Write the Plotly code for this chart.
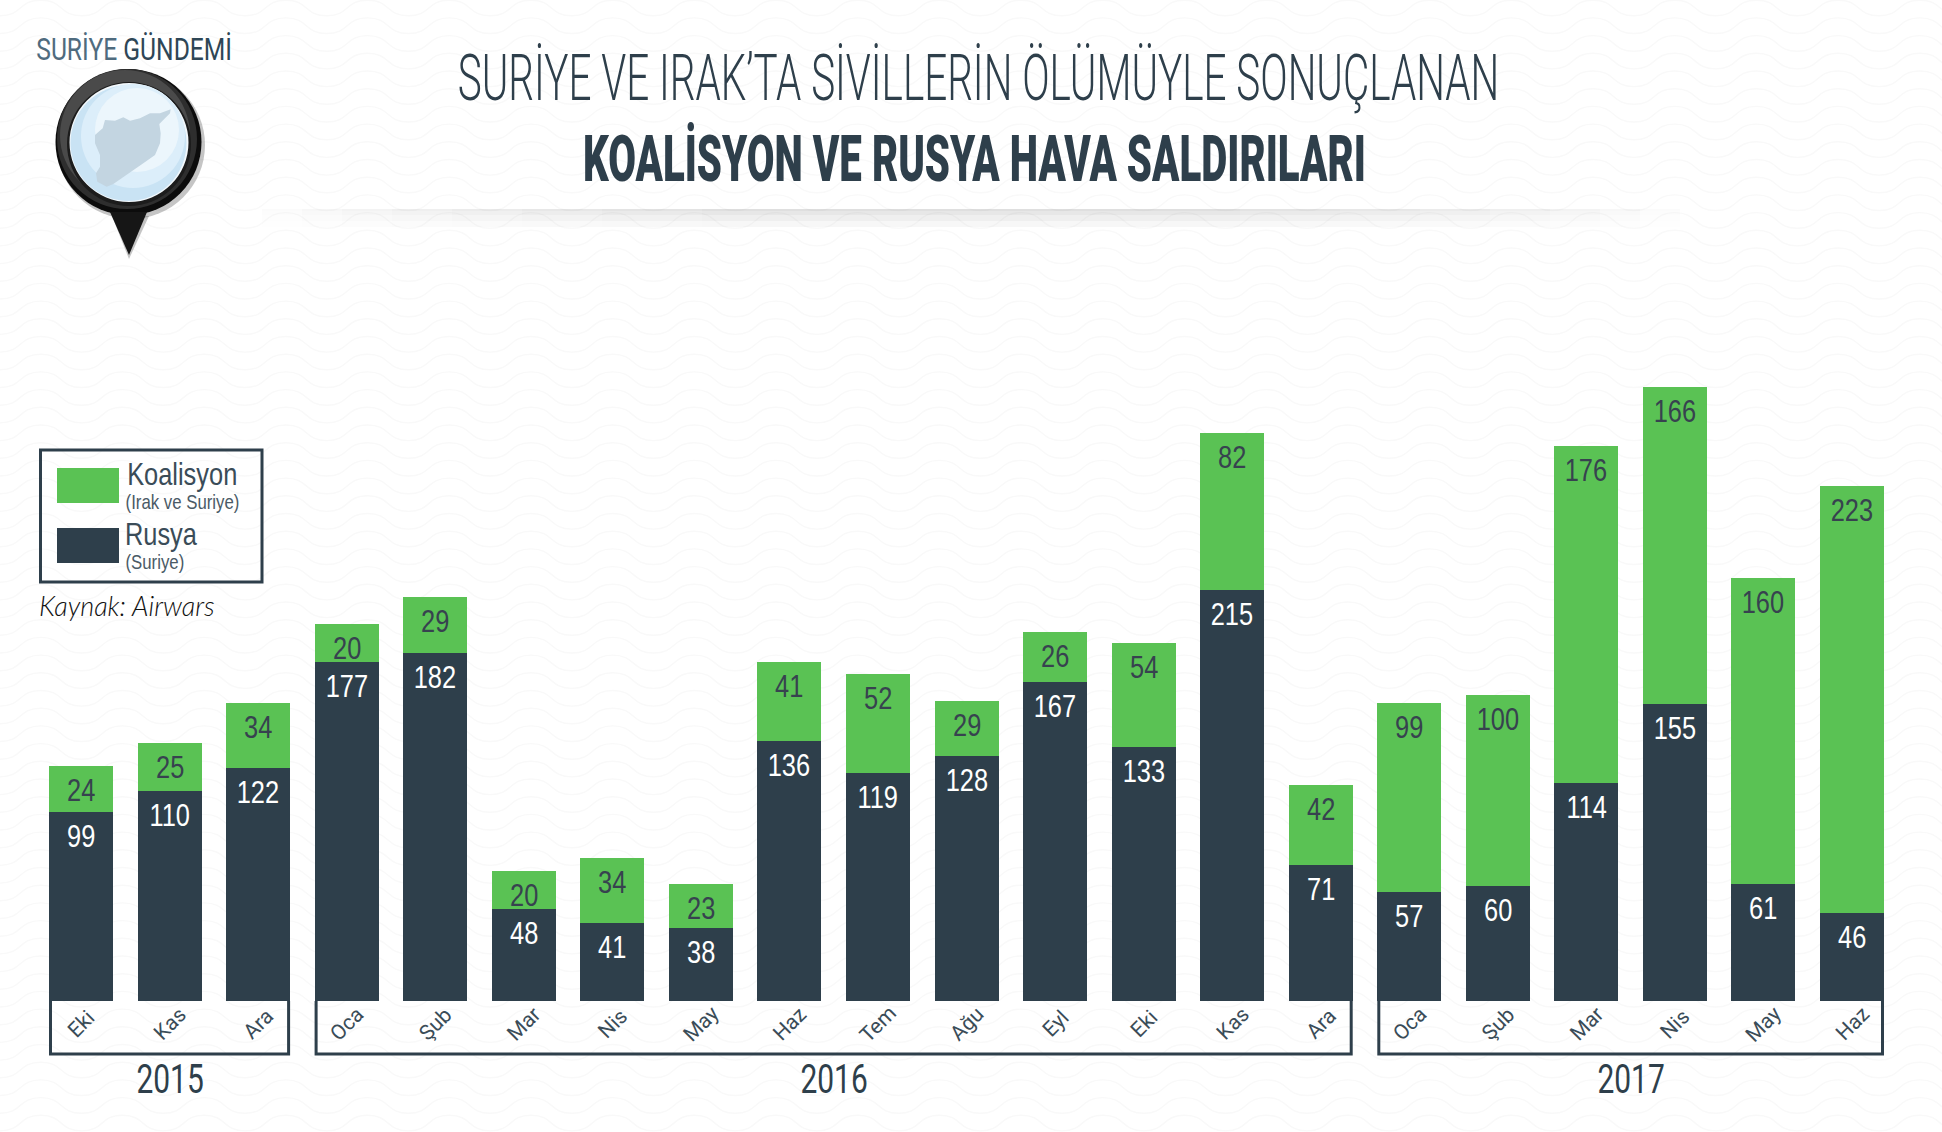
import json
import plotly.graph_objects as go

W, H = 1942, 1132
DARK = "#2e3f4b"
GREEN = "#5ac254"

months = ["Eki", "Kas", "Ara",
          "Oca", "Şub", "Mar", "Nis", "May", "Haz", "Tem", "Ağu", "Eyl", "Eki", "Kas", "Ara",
          "Oca", "Şub", "Mar", "Nis", "May", "Haz"]
rusya = [99, 110, 122, 177, 182, 48, 41, 38, 136, 119, 128, 167, 133, 215, 71, 57, 60, 114, 155, 61, 46]
koalisyon = [24, 25, 34, 20, 29, 20, 34, 23, 41, 52, 29, 26, 54, 82, 42, 99, 100, 176, 166, 160, 223]
years = ["2015", "2016", "2017"]
year_spans = [(0, 2), (3, 14), (15, 20)]

x_pos = list(range(len(months)))
step = 88.55
bar_w = 64
left = 81 - step / 2
unit = 1.913
base = 1001
ARIAL = "Liberation Sans"


def pxx(i):
    return 81 + i * step


fig = go.Figure()
fig.add_trace(go.Bar(x=x_pos, y=rusya, name="Rusya", marker=dict(color=DARK, line_width=0), width=bar_w / step))
fig.add_trace(go.Bar(x=x_pos, y=koalisyon, name="Koalisyon", marker=dict(color=GREEN, line_width=0), width=bar_w / step))

shapes = []
ann = []


def text(x, y, s, size, color=DARK, family=ARIAL, angle=0, weight=None, italic=False):
    f = dict(size=size, color=color, family=family)
    if weight:
        f["weight"] = weight
    if italic:
        f["style"] = "italic"
    ann.append(dict(x=x, y=y, xref="x2", yref="y2", text=s, showarrow=False, font=f,
                    textangle=angle, xanchor="center", yanchor="middle", borderpad=0, borderwidth=0))


def rect(x0, y0, x1, y1, fill, line=None, lw=0, layer="above"):
    shapes.append(dict(type="rect", xref="x2", yref="y2", x0=x0, y0=y0, x1=x1, y1=y1, fillcolor=fill,
                       line=dict(color=line or "rgba(0,0,0,0)", width=lw), layer=layer))


def circle(cx, cy, r, fill, layer="above"):
    shapes.append(dict(type="circle", xref="x2", yref="y2", x0=cx - r, y0=cy - r, x1=cx + r, y1=cy + r,
                       fillcolor=fill, line_width=0, layer=layer))


def path(d, fill=None, line=None, lw=0, layer="above"):
    shapes.append(dict(type="path", xref="x2", yref="y2", path=d, fillcolor=fill or "rgba(0,0,0,0)",
                       line=dict(color=line or "rgba(0,0,0,0)", width=lw), layer=layer))


# background waves
period = 81.7
row = 17.7
for r in range(-1, 66):
    yc = 8 + r * row
    x = -60.0 + (1408 % period) - period
    d = f"M{x:.1f},{yc - 7.8:.1f}"
    while x < W + period:
        d += f" C{x + period * .28:.1f},{yc - 7.8:.1f} {x + period * .22:.1f},{yc + 7.8:.1f} {x + period * .5:.1f},{yc + 7.8:.1f}"
        d += f" C{x + period * .78:.1f},{yc + 7.8:.1f} {x + period * .72:.1f},{yc - 7.8:.1f} {x + period:.1f},{yc - 7.8:.1f}"
        x += period
    path(d, line="#f9f9f9", lw=1.4, layer="below")

# soft shadow under the title: rows fade downwards, nested insets fade sideways
insets = (0, 40, 80, 130, 190, 260, 340, 440)
for j in range(12):
    a = 0.24 * (1 - j / 12) ** 2 / len(insets)
    for inset in insets:
        rect(262 + inset, 209 + j * 2, 1680 - inset, 211 + j * 2, f"rgba(120,120,120,{a:.4f})")

# logo pin
path("M112,216 L129,259 L149,216 Z", fill="rgba(90,90,90,0.35)")
circle(131, 145, 74, "rgba(90,90,90,0.35)")
circle(128.5, 142, 73, "#0c0c0c")
circle(127, 139, 70, "#2e2e2e")
circle(125, 135, 65, "#4a4a4a")
circle(129, 144, 62, "#1c1c1c")
path("M110,212 L129,255 L147,212 Z", fill="#161616")
circle(129, 142.5, 59.5, "#f2f8fc")
circle(128.5, 143, 58, "#c9e3f4")
circle(133, 136, 52, "#dceefa")
circle(137, 130, 42, "#ecf6fc")
syria = [(512, 328), (480, 340), (450, 340), (420, 355), (390, 362), (370, 352), (345, 362), (315, 360), (308, 385),
         (285, 405), (285, 430), (300, 465), (300, 500), (288, 520), (292, 545), (320, 560), (340, 552), (430, 490),
         (465, 465), (480, 430), (482, 400), (478, 372), (495, 355), (510, 340)]
path("M" + " L".join(f"{a / 3:.1f},{b / 3:.1f}" for a, b in syria) + " Z", fill="#c3d5e1")

# legend
rect(40.5, 450, 262, 582, "rgba(0,0,0,0)", line=DARK, lw=3)
rect(57, 468, 119, 503, GREEN)
rect(57, 528, 119, 563, DARK)
text(182, 474, "Koalisyon", 31, color="#3a4c58")
text(182, 501, "(Irak ve Suriye)", 20.5, color="#4a5a66")
text(161, 534, "Rusya", 31, color="#3a4c58")
text(155, 561, "(Suriye)", 20.5, color="#4a5a66")
text(127, 605, "Kaynak: Airwars", 27, color="#111111", family="Lato", italic=True, weight=300)

# titles
text(978, 78, "SURİYE VE IRAK’TA SİVİLLERİN ÖLÜMÜYLE SONUÇLANAN", 65, color=DARK, family="Roboto", weight=300)
text(974, 159, "KOALİSYON VE RUSYA HAVA SALDIRILARI", 65, color=DARK, family="Roboto", weight=900)
logo = '<span style="color:#4f6b7e">SURİYE</span> <span style="color:#2e4656">GÜNDEMİ</span>'
text(134, 49, logo, 32, family="Roboto", weight=400)

# month labels and year brackets
for i, m in zip(x_pos, months):
    text(pxx(i), 1023.5, m, 21, color="#3a4c58", family="Roboto", angle=-45)
for label, (a, b) in zip(years, year_spans):
    x0, x1 = pxx(a) - bar_w / 2 + 1.5, pxx(b) + bar_w / 2 - 1.5
    path(f"M{x0:.1f},{base} L{x0:.1f},1054 L{x1:.1f},1054 L{x1:.1f},{base}", line=DARK, lw=3)
    text((x0 + x1) / 2, 1079, label, 41, family="Roboto")

# value labels
for i, r, k in zip(x_pos, rusya, koalisyon):
    text(pxx(i), base - r * unit + 24.5, str(r), 31, color="#ffffff")
    text(pxx(i), base - (r + k) * unit + 24.5, str(k), 31, color="#37424f")

fig.update_layout(
    width=W, height=H, barmode="stack", bargap=0.277, showlegend=False,
    margin=dict(l=0, r=0, t=0, b=0), paper_bgcolor="#ffffff", plot_bgcolor="rgba(0,0,0,0)",
    xaxis=dict(range=[-0.5 - left / step, -0.5 + (W - left) / step], visible=False, domain=[0, 1]),
    yaxis=dict(range=[-(H - base) / unit, base / unit], visible=False, domain=[0, 1]),
    xaxis2=dict(range=[0, W], visible=False, overlaying="x", anchor="y2"),
    yaxis2=dict(range=[H, 0], visible=False, overlaying="y", anchor="x2"),
    shapes=shapes, annotations=ann,
)

# the original fonts are much narrower than anything installed, so squeeze them sideways
stretch = {
    "SURİYE VE IRAK’TA SİVİLLERİN ÖLÜMÜYLE SONUÇLANAN": 0.622,
    "KOALİSYON VE RUSYA HAVA SALDIRILARI": 0.619,
    "SURİYE GÜNDEMİ": 0.77,
    "2015": 0.73, "2016": 0.73, "2017": 0.73,
}
post = """
document.body.style.margin = '0';
var stretch = %s;
document.querySelectorAll('.annotation-text').forEach(function (t) {
  var s = stretch[t.textContent];
  if (!s && t.style.fontFamily.indexOf('Liberation') >= 0) s = 0.82;
  if (s) {
    var x = parseFloat(t.getAttribute('x')) || 0;
    t.setAttribute('transform', 'translate(' + x + ',0) scale(' + s + ',1) translate(' + (-x) + ',0)');
  }
});
""" % json.dumps(stretch, ensure_ascii=False)

fig.write_html("out.html", post_script=post, config=dict(displayModeBar=False))
